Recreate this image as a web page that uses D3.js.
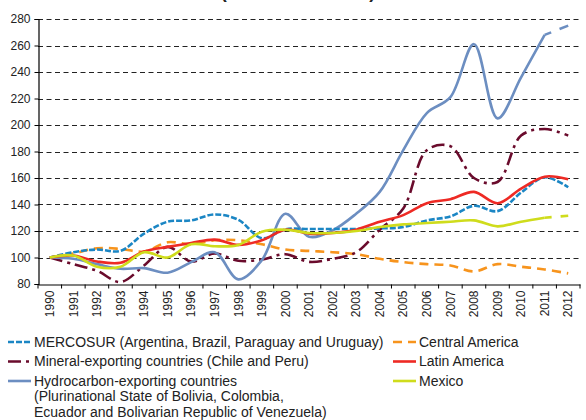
<!doctype html>
<html>
<head>
<meta charset="utf-8">
<style>
  body { margin: 0; background: #fff; }
  svg text { font-family: Arial, "Liberation Sans", sans-serif; fill: #222; }
</style>
<script src="https://d3js.org/d3.v7.min.js"></script>
</head>
<body>
<svg width="586" height="420" id="chart"></svg>
<script>
// data
var years = ["1990","1991","1992","1993","1994","1995","1996","1997","1998","1999","2000",
             "2001","2002","2003","2004","2005","2006","2007","2008","2009","2010","2011","2012"];
var yTicks = [80,100,120,140,160,180,200,220,240,260,280];

var mercosur = [100,104,106,105,118,127,128,132.5,128.5,114.5,121.3,121.5,121.5,121.5,122,123,128,131,139,135,149,160.5,153];
var mineral  = [100,95,90,81.5,94,108,97,103,97.5,98.5,102.5,96.7,99,104,121,137,181,184,160,157,192,197,192];
var hydro    = [100,99,95,91.5,92,88.5,96.5,104,83.5,98,133,115.7,120.5,133,149.5,181,209,221,261,205,236,268,275];
var central  = [100,103,107,106.5,104.5,111.5,110,113,113,110,106,105,104,102.5,99,96.5,95,94,89.5,95,93,91,88];
var latam    = [100,101.5,97,96,104.5,108,111,113.5,109.5,113,121,118,118.5,121,127,132,141,144,149.5,141,152,161,159];
var mexico   = [100,101.5,93,93,104,100,110,108.5,109.5,119.5,121,118.5,118.5,120,123,125,126,127,128,123.5,127,130,131.5];

var series = [
  {name: ["MERCOSUR (Argentina, Brazil, Paraguay and Uruguay)"], values: mercosur, color: "#1b86c4", dash: "6,2", col: 0, row: 0},
  {name: ["Mineral-exporting countries (Chile and Peru)"], values: mineral, color: "#6a0b2c", dash: "13,5,3,5", col: 0, row: 1},
  {name: ["Hydrocarbon-exporting countries", "(Plurinational State of Bolivia, Colombia,", "Ecuador and Bolivarian Republic of Venezuela)"],
     values: hydro, color: "#6c8ec1", dash: null, tailDash: true, col: 0, row: 2},
  {name: ["Central America"], values: central, color: "#f7941d", dash: "9,6", col: 1, row: 0},
  {name: ["Latin America"], values: latam, color: "#ee2a24", dash: null, col: 1, row: 1},
  {name: ["Mexico"], values: mexico, color: "#cfdc1c", dash: null, tailDash: true, col: 1, row: 2}
];

var svg = d3.select("#chart");

var x = d3.scaleBand().domain(years).range([38, 580]).padding(0);
var y = d3.scaleLinear().domain([80, 280]).range([284, 19]);

// title (cut off at top in the original)
svg.append("text")
   .attr("x", 298).attr("y", -2)
   .attr("text-anchor", "middle")
   .attr("font-size", "18px")
   .attr("font-weight", "bold")
   .text("(Index 1990 = 100)");

// gridlines
svg.append("g")
   .selectAll("line")
   .data(yTicks.slice(1))
   .enter().append("line")
   .attr("x1", 38).attr("x2", 580)
   .attr("y1", function(d) { return Math.round(y(d)) + 0.5; })
   .attr("y2", function(d) { return Math.round(y(d)) + 0.5; })
   .attr("stroke", "#222")
   .attr("stroke-dasharray", "5,3.5");

// y axis
var yAxis = svg.append("g")
   .attr("transform", "translate(38.5,0)")
   .call(d3.axisLeft(y).tickValues(yTicks).tickSize(4).tickPadding(4));
yAxis.select(".domain").attr("stroke", "#000").attr("stroke-width", 1.2);
yAxis.selectAll("text").attr("font-size", "12px");

// x axis
var xAxis = svg.append("g")
   .attr("transform", "translate(0,284.5)")
   .call(d3.axisBottom(x).tickSize(0).tickSizeOuter(0));
xAxis.select(".domain").attr("stroke", "#000").attr("stroke-width", 1.2);
xAxis.selectAll("text")
   .attr("font-size", "12px")
   .attr("transform", "rotate(-90)")
   .attr("text-anchor", "end")
   .attr("x", -6)
   .attr("y", 0)
   .attr("dy", "0.35em");

// boundary ticks between years
xAxis.selectAll(".bound")
   .data(years.concat(["end"]))
   .enter().append("line")
   .attr("class", "bound")
   .attr("x1", function(d, i) { return x(years[0]) + i * x.step(); })
   .attr("x2", function(d, i) { return x(years[0]) + i * x.step(); })
   .attr("y1", 0).attr("y2", 4)
   .attr("stroke", "#000");

// lines
var line = d3.line()
   .x(function(d, i) { return x(years[i]) + x.bandwidth() / 2; })
   .y(function(d) { return y(d); })
   .curve(d3.curveCatmullRom.alpha(0.5));

var drawOrder = [3, 1, 2, 0, 4, 5];
drawOrder.forEach(function(k) {
  var s = series[k];
  var n = s.values.length;
  var main = s.tailDash ? s.values.slice(0, n - 1) : s.values;
  svg.append("path")
     .attr("d", line(main))
     .attr("fill", "none")
     .attr("stroke", s.color)
     .attr("stroke-width", 2.6)
     .attr("stroke-dasharray", s.dash);
  if (s.tailDash) {
    var tail = d3.line()
       .x(function(d, i) { return x(years[n - 2 + i]) + x.bandwidth() / 2; })
       .y(function(d) { return y(d); });
    svg.append("path")
       .attr("d", tail(s.values.slice(n - 2)))
       .attr("fill", "none")
       .attr("stroke", s.color)
       .attr("stroke-width", 2.6)
       .attr("stroke-dasharray", "7,9,10");
  }
});

// legend
var legX = [8, 393], legY0 = 342, legStep = 19.5;
var leg = svg.append("g").selectAll("g")
   .data(series)
   .enter().append("g")
   .attr("transform", function(d) { return "translate(" + legX[d.col] + "," + (legY0 + d.row * legStep) + ")"; });
leg.append("line")
   .attr("x1", 0).attr("x2", 23)
   .attr("stroke", function(d) { return d.color; })
   .attr("stroke-width", 2.6)
   .attr("stroke-dasharray", function(d) { return d.dash; });
leg.append("text")
   .attr("x", 26)
   .attr("font-size", "14px")
   .selectAll("tspan")
   .data(function(d) { return d.name; })
   .enter().append("tspan")
   .attr("x", 26)
   .attr("y", function(d, i) { return i * 15.5; })
   .attr("dy", "0.35em")
   .text(function(d) { return d; });
</script>
</body>
</html>
